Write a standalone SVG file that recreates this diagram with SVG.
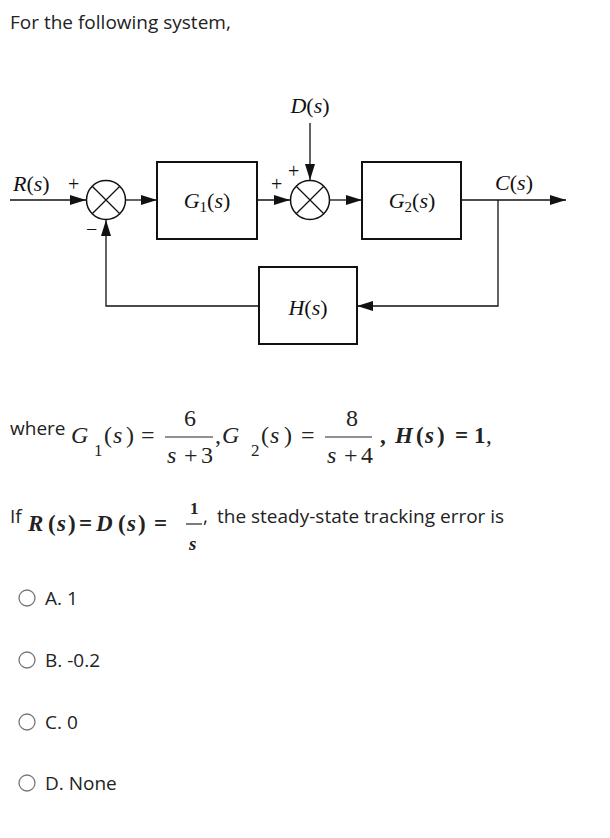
<svg xmlns="http://www.w3.org/2000/svg" width="610" height="838" viewBox="0 0 610 838">
<defs>
<style>
.ui{font-family:"Open Sans","Liberation Sans",sans-serif;font-size:19px;fill:#222}
.dl{font-family:"Liberation Serif","Times New Roman",serif;font-size:22px;fill:#111}
.it{font-style:italic}
.sub{font-size:15px}
.m{font-family:"Liberation Serif","Times New Roman",serif;font-size:24px;fill:#222}
.ms{font-size:17px}
.mb{font-family:"Liberation Serif","Times New Roman",serif;font-size:23px;fill:#222;font-weight:bold}
.sg{font-family:"Liberation Serif","Times New Roman",serif;font-size:20px;fill:#111}
.box{fill:#fff;stroke:#111;stroke-width:2}
.sum{fill:#fff;stroke:#111;stroke-width:1.5}
.wire{fill:none;stroke:#111;stroke-width:1.3}
.radio{fill:#fff;stroke:#777;stroke-width:1.3}
.fl{stroke:#222;stroke-width:1.2}
</style>
<marker id="ah" markerWidth="16" markerHeight="10" refX="16" refY="5" orient="auto" markerUnits="userSpaceOnUse">
<path d="M0,0 L16,5 L0,10 z" fill="#111"/>
</marker>
</defs>
<rect width="610" height="838" fill="#fff"/>

<text class="ui" x="10" y="29">For the following system,</text>

<g id="connectors">
<line class="wire" x1="10" y1="200" x2="86" y2="200" marker-end="url(#ah)"/>
<line class="wire" x1="126" y1="200" x2="157" y2="200" marker-end="url(#ah)"/>
<line class="wire" x1="257" y1="200" x2="290" y2="200" marker-end="url(#ah)"/>
<line class="wire" x1="310" y1="123" x2="310" y2="180" marker-end="url(#ah)"/>
<line class="wire" x1="330" y1="200" x2="362" y2="200" marker-end="url(#ah)"/>
<line class="wire" x1="461" y1="200" x2="566" y2="200" marker-end="url(#ah)"/>
<polyline class="wire" points="498,200 498,306 357,306" marker-end="url(#ah)"/>
<polyline class="wire" points="259,306 106,306 106,220" marker-end="url(#ah)"/>
</g>

<g id="labels">
<text class="dl" x="13" y="191"><tspan class="it">R</tspan>(<tspan class="it">s</tspan>)</text>
<text class="sg" x="68" y="191">+</text>
<text class="sg" x="86" y="236">−</text>
<text class="sg" x="271" y="191">+</text>
<text class="sg" x="288" y="178">+</text>
<text class="dl" x="310" y="113" text-anchor="middle"><tspan class="it">D</tspan>(<tspan class="it">s</tspan>)</text>
<text class="dl" x="514" y="190" text-anchor="middle"><tspan class="it">C</tspan>(<tspan class="it">s</tspan>)</text>
</g>

<g id="sum1">
<circle class="sum" cx="106" cy="200" r="19.5"/>
<path class="wire" d="M92.2,186.2 L119.8,213.8 M119.8,186.2 L92.2,213.8"/>
</g>

<g id="G1">
<rect class="box" x="157" y="162" width="100" height="77"/>
<text class="dl" x="207" y="208" text-anchor="middle"><tspan class="it">G</tspan><tspan class="sub" dy="4">1</tspan><tspan dy="-4">(</tspan><tspan class="it">s</tspan>)</text>
</g>

<g id="sum2">
<circle class="sum" cx="310" cy="200" r="19.5"/>
<path class="wire" d="M296.2,186.2 L323.8,213.8 M323.8,186.2 L296.2,213.8"/>
</g>

<g id="G2">
<rect class="box" x="362" y="162" width="99" height="77"/>
<text class="dl" x="412" y="208" text-anchor="middle"><tspan class="it">G</tspan><tspan class="sub" dy="4">2</tspan><tspan dy="-4">(</tspan><tspan class="it">s</tspan>)</text>
</g>

<g id="H">
<rect class="box" x="259" y="267" width="98" height="77"/>
<text class="dl" x="308" y="315" text-anchor="middle"><tspan class="it">H</tspan>(<tspan class="it">s</tspan>)</text>
</g>

<g id="where-line">
<text class="ui" x="10" y="435">where</text>
<text class="m" y="443"><tspan class="it" x="71">G</tspan><tspan class="ms" x="94" dy="13">1</tspan><tspan x="104" dy="-13">(</tspan><tspan class="it" x="113">s</tspan><tspan x="126">)</tspan><tspan x="141">=</tspan></text>
<line class="fl" x1="165" y1="437" x2="213" y2="437"/>
<text class="m" x="184" y="426">6</text>
<text class="m" y="463"><tspan class="it" x="167">s</tspan><tspan x="184">+</tspan><tspan x="201">3</tspan></text>
<text class="m" y="443"><tspan x="215">,</tspan><tspan class="it" x="222">G</tspan><tspan class="ms" x="251" dy="13">2</tspan><tspan x="261" dy="-13">(</tspan><tspan class="it" x="270">s</tspan><tspan x="284">)</tspan><tspan x="301">=</tspan></text>
<line class="fl" x1="325" y1="437" x2="372" y2="437"/>
<text class="m" x="346" y="426">8</text>
<text class="m" y="463"><tspan class="it" x="327">s</tspan><tspan x="344">+</tspan><tspan x="361">4</tspan></text>
<text class="mb" y="443"><tspan x="380">,</tspan><tspan class="it" x="395">H</tspan><tspan x="416">(</tspan><tspan class="it" x="425">s</tspan><tspan x="437">)</tspan><tspan x="455">=</tspan><tspan x="474">1</tspan><tspan x="486" font-weight="normal">,</tspan></text>
</g>

<g id="if-line">
<text class="ui" x="10" y="523">If</text>
<text class="mb" y="531"><tspan class="it" x="28">R</tspan><tspan x="48">(</tspan><tspan class="it" x="57">s</tspan><tspan x="68">)</tspan><tspan x="79">=</tspan><tspan class="it" x="96">D</tspan><tspan x="118">(</tspan><tspan class="it" x="127">s</tspan><tspan x="138">)</tspan><tspan x="154">=</tspan></text>
<line class="fl" x1="186" y1="524" x2="202" y2="524"/>
<text class="mb" x="190" y="514" style="font-size:17px">1</text>
<text class="mb it" x="189" y="550" style="font-size:19px">s</text>
<text class="ui" x="203" y="523">,</text>
<text class="ui" x="217" y="523">the steady-state tracking error is</text>
</g>

<g id="options">
<circle class="radio" cx="27" cy="598" r="8"/>
<text class="ui" x="45" y="605">A. 1</text>
<circle class="radio" cx="27" cy="660" r="8"/>
<text class="ui" x="45" y="667">B. -0.2</text>
<circle class="radio" cx="27" cy="722" r="8"/>
<text class="ui" x="45" y="729">C. 0</text>
<circle class="radio" cx="27" cy="783" r="8"/>
<text class="ui" x="45" y="790">D. None</text>
</g>
</svg>
